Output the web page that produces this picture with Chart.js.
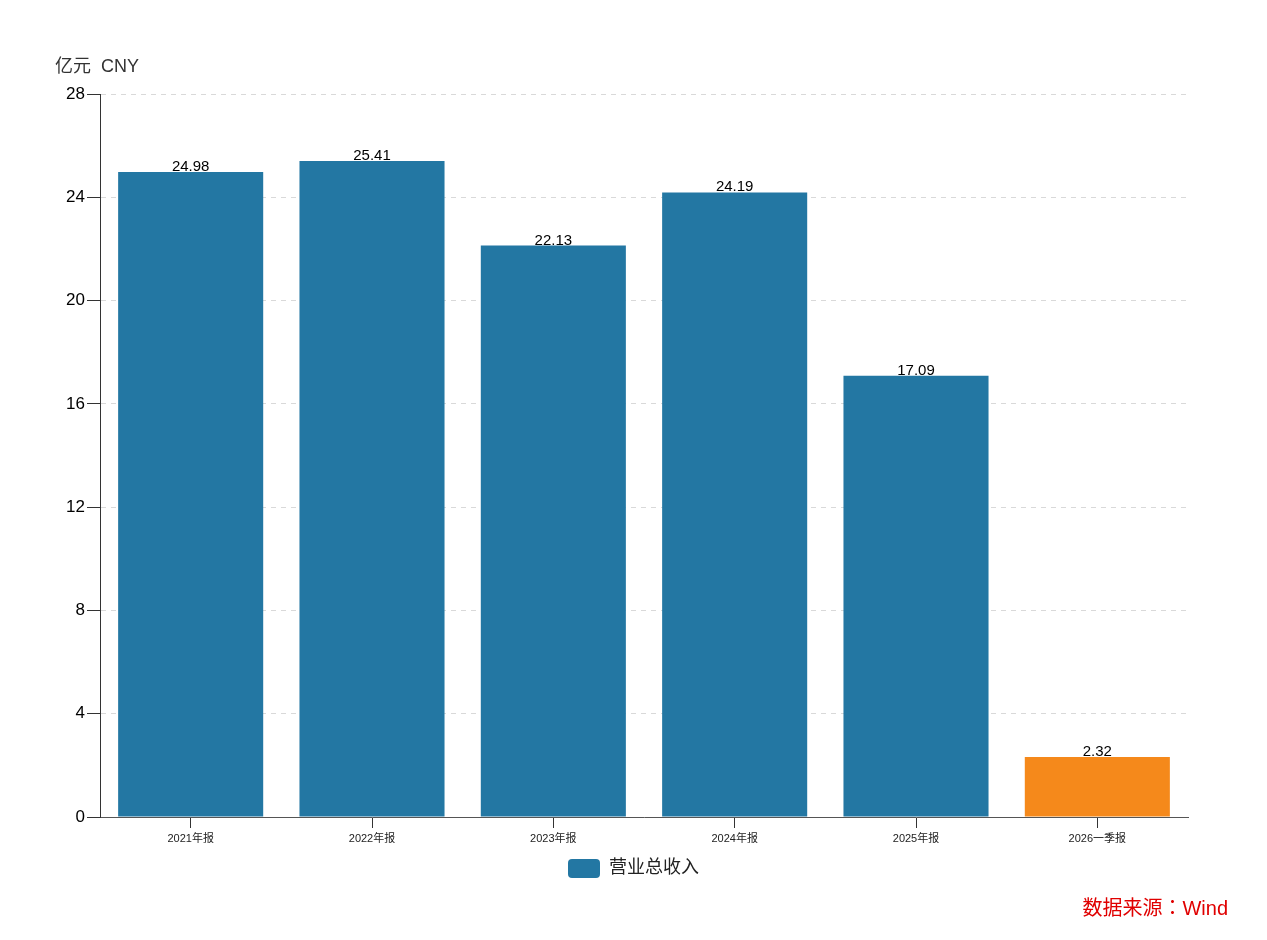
<!DOCTYPE html>
<html>
<head>
<meta charset="utf-8">
<script src="https://cdn.jsdelivr.net/npm/chart.js@4"></script>
<style>
  html, body { margin: 0; padding: 0; background: #fff; }
  #wrap { width: 1267px; height: 940px; }
</style>
</head>
<body>
<div id="wrap"><canvas id="revChart" width="1267" height="940"></canvas></div>
<script>
// données
const categories = ["2021年报", "2022年报", "2023年报", "2024年报", "2025年报", "2026一季报"];
const revenue = [24.98, 25.41, 22.13, 24.19, 17.09, 2.32];
const yTicks = [0, 4, 8, 12, 16, 20, 24, 28];
const seriesName = "营业总收入";
const unitLabel = "亿元  CNY";
const sourcePrefix = "数据来源：";
const sourceName = "Wind";

const BLUE = "#2377a3";
const ORANGE = "#f5891b";
const FONT = '"Helvetica Neue", Arial, "Liberation Sans", "Noto Sans CJK SC", sans-serif';
const BOTTOM_PAD = 52;

// étiquettes de valeur + textes fixes
const extras = {
  id: "extras",
  afterDatasetsDraw(chart) {
    const ctx = chart.ctx;
    const meta = chart.getDatasetMeta(0);
    ctx.save();
    ctx.font = "15px " + FONT;
    ctx.fillStyle = "#000";
    ctx.textAlign = "center";
    ctx.textBaseline = "alphabetic";
    meta.data.forEach((bar, i) => {
      ctx.fillText(revenue[i].toFixed(2), bar.x, bar.y - 1);
    });
    ctx.restore();
  },
  afterDraw(chart) {
    const ctx = chart.ctx;
    ctx.save();
    ctx.font = "18px " + FONT;
    ctx.fillStyle = "#333";
    ctx.textAlign = "left";
    ctx.textBaseline = "middle";
    ctx.fillText(unitLabel, 55, 67);

    // source : "Wind" en Arial, le reste en CJK
    ctx.fillStyle = "#e00000";
    ctx.textAlign = "right";
    ctx.textBaseline = "alphabetic";
    ctx.font = '20px Arial, "Liberation Sans", sans-serif';
    const w = ctx.measureText(sourceName).width;
    ctx.fillText(sourceName, 1228, 915);
    ctx.font = '20px "Noto Sans CJK JP", sans-serif';
    ctx.fillText(sourcePrefix, 1228 - w, 915);
    ctx.restore();
  }
};

new Chart(document.getElementById("revChart"), {
  type: "bar",
  data: {
    labels: categories,
    datasets: [{
      label: seriesName,
      data: revenue,
      backgroundColor: c => (c.dataIndex === categories.length - 1 ? ORANGE : BLUE),
      barPercentage: 0.8,
      categoryPercentage: 1.0
    }]
  },
  options: {
    responsive: false,
    animation: false,
    devicePixelRatio: 1,
    layout: { padding: { left: 0, right: 0, top: 94, bottom: BOTTOM_PAD } },
    plugins: {
      tooltip: { enabled: false },
      legend: {
        position: "bottom",
        labels: {
          boxWidth: 32,
          boxHeight: 19,
          useBorderRadius: true,
          borderRadius: 4,
          color: "#222",
          padding: 10,
          font: { size: 18, family: FONT }
        }
      }
    },
    scales: {
      x: {
        afterFit: s => { s.height = 940 - 817 - BOTTOM_PAD - (s.chart.legend ? s.chart.legend.height : 0); },
        border: { display: true, color: "#555", width: 1 },
        grid: { drawOnChartArea: false, drawTicks: true, tickLength: 11, tickColor: "#333", offset: false },
        ticks: { color: "#222", font: { size: 11, family: FONT }, padding: 4, maxRotation: 0 }
      },
      y: {
        min: 0,
        max: 28,
        afterFit: s => { s.width = 100; },
        afterBuildTicks: s => { s.ticks = yTicks.map(v => ({ value: v })); },
        border: { display: true, color: "#333", width: 1, dash: [5, 5] },
        grid: {
          color: "#d9d9d9",
          tickBorderDash: [],
          tickColor: "#333",
          tickLength: 13,
          drawTicks: true
        },
        ticks: { color: "#000", font: { size: 17, family: FONT }, padding: 2 }
      },
      // marge droite (pour garder la légende centrée sur la page)
      yRight: {
        position: "right",
        display: true,
        afterFit: s => { s.width = 79; },
        grid: { display: false },
        border: { display: false },
        ticks: { display: false }
      }
    }
  },
  plugins: [extras]
});
</script>
</body>
</html>
